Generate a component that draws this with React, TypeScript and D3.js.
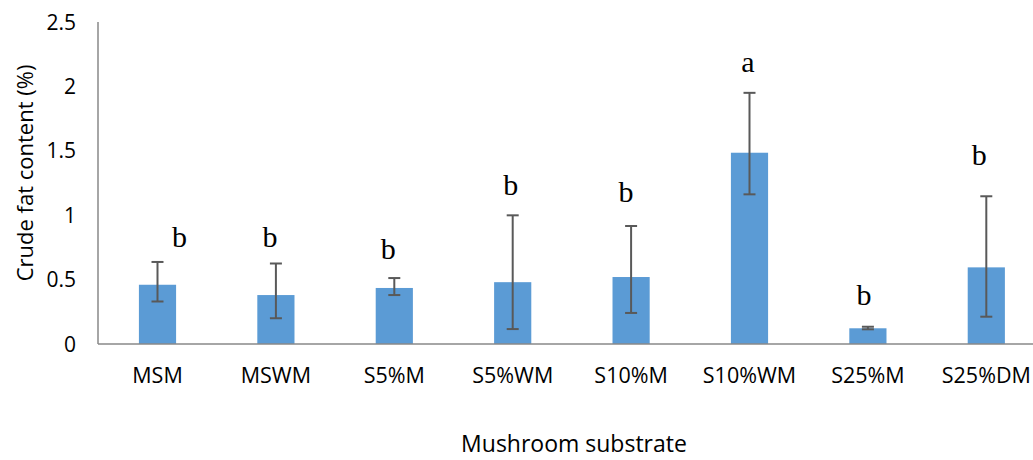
import * as React from "react";
import * as d3 from "d3";

const categories = ["MSM", "MSWM", "S5%M", "S5%WM", "S10%M", "S10%WM", "S25%M", "S25%DM"];
const fatValues = [0.46, 0.38, 0.435, 0.48, 0.52, 1.485, 0.122, 0.595];
const errLow = [0.33, 0.2, 0.38, 0.116, 0.241, 1.162, 0.114, 0.212];
const errHigh = [0.637, 0.625, 0.512, 0.999, 0.916, 1.95, 0.134, 1.147];
const groupLetters = ["b", "b", "b", "b", "b", "a", "b", "b"];
// height of each letter's baseline, in chart units
const letterLevels = [0.753, 0.753, 0.66, 1.157, 1.105, 2.114, 0.303, 1.39];
const letterShift = [22, -6, -6, -2, -5, -1.5, -4, -7];
const yTicks = [0, 0.5, 1, 1.5, 2, 2.5];

const W = 1033;
const H = 460;
const sansFont = "'Open Sans', sans-serif";

export default function App() {
    const xScale = d3.scaleBand<string>()
        .domain(categories)
        .range([98.3, 1045.5])
        .paddingInner(0.686)
        .paddingOuter(0.343);
    const yScale = d3.scaleLinear().domain([0, 2.5]).range([344, 22]);

    const bars = categories.map((c, i) => {
        const cx = (xScale(c) || 0) + xScale.bandwidth() / 2;
        return <g key={c}>
            <rect x={xScale(c)} y={yScale(fatValues[i])} width={xScale.bandwidth()}
                height={yScale(0) - yScale(fatValues[i])} fill="#5b9bd5"></rect>
            <line x1={cx} x2={cx} y1={yScale(errLow[i])} y2={yScale(errHigh[i])} stroke="#595959" strokeWidth={2}></line>
            <line x1={cx - 6} x2={cx + 6} y1={yScale(errLow[i])} y2={yScale(errLow[i])} stroke="#595959" strokeWidth={2}></line>
            <line x1={cx - 6} x2={cx + 6} y1={yScale(errHigh[i])} y2={yScale(errHigh[i])} stroke="#595959" strokeWidth={2}></line>
            <text x={cx + letterShift[i]} y={yScale(letterLevels[i])} textAnchor="middle"
                fontFamily="'Liberation Serif', serif" fontSize={30} fill="#000">{groupLetters[i]}</text>
            <text x={cx} y={383} textAnchor="middle" fontFamily={sansFont} fontSize={21.5} fill="#000">{c}</text>
        </g>;
    });

    const ticks = yTicks.map(t => <text key={t} x={76} y={yScale(t) + 7.5} textAnchor="end"
        fontFamily={sansFont} fontSize={21} fill="#000">{t}</text>);

    return <svg width={W} height={H} style={{ position: "absolute", left: 0, top: 0, background: "#fff" }}>
        {bars}
        <line x1={98} x2={98} y1={yScale(2.5)} y2={yScale(0)} stroke="#898989" strokeWidth={1.5}></line>
        <line x1={98} x2={W} y1={yScale(0)} y2={yScale(0)} stroke="#898989" strokeWidth={1.5}></line>
        {ticks}
        <text x={574} y={452} textAnchor="middle" fontFamily={sansFont} fontSize={23} fill="#000">Mushroom substrate</text>
        <text transform="translate(33,173) rotate(-90)" textAnchor="middle" fontFamily={sansFont} fontSize={22} fill="#000">Crude fat content (%)</text>
    </svg>;
}
